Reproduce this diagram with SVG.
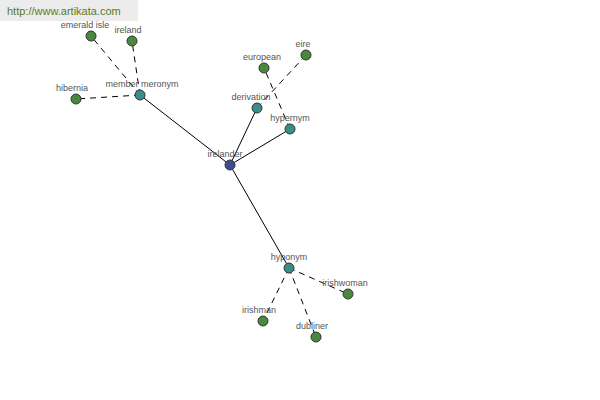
<svg xmlns="http://www.w3.org/2000/svg" width="600" height="400" viewBox="0 0 600 400">
<style>
.lbl{font-family:"Liberation Sans",Arial,sans-serif;font-size:9px;fill:#555;text-anchor:middle}
.n{stroke:#2a3a2a;stroke-width:1}
.teal{fill:#3c8c8c}
.green{fill:#4a8840}
.blue{fill:#3f4a95}
.e{stroke:#000;stroke-width:1;fill:none}
.d{stroke-dasharray:6,5}
</style>
<rect x="0" y="0" width="138" height="21" fill="#ececec"/>
<text x="7" y="15" font-family="'Liberation Sans',Arial,sans-serif" font-size="11" fill="#5a7a2a">http://www.artikata.com</text>
<g id="connectors">
<line class="e" x1="230" y1="165" x2="140" y2="95"/>
<line class="e" x1="230" y1="165" x2="257" y2="108"/>
<line class="e" x1="230" y1="165" x2="290" y2="129"/>
<line class="e" x1="230" y1="165" x2="289" y2="268"/>
<line class="e d" x1="140" y1="95" x2="91" y2="36"/>
<line class="e d" x1="140" y1="95" x2="132" y2="41"/>
<line class="e d" x1="140" y1="95" x2="76" y2="99"/>
<line class="e d" x1="257" y1="108" x2="306" y2="55"/>
<line class="e d" x1="290" y1="129" x2="264" y2="68"/>
<line class="e d" x1="289" y1="268" x2="348" y2="294"/>
<line class="e d" x1="289" y1="268" x2="263" y2="321"/>
<line class="e d" x1="289" y1="268" x2="316" y2="337"/>
</g>
<g id="irelander"><circle class="n blue" cx="230" cy="165" r="5"/><text class="lbl" x="225" y="157">irelander</text></g>
<g id="member-meronym"><circle class="n teal" cx="140" cy="95" r="5"/><text class="lbl" x="142" y="87">member meronym</text></g>
<g id="emerald-isle"><circle class="n green" cx="91" cy="36" r="5"/><text class="lbl" x="85" y="28">emerald isle</text></g>
<g id="ireland"><circle class="n green" cx="132" cy="41" r="5"/><text class="lbl" x="128" y="33">ireland</text></g>
<g id="hibernia"><circle class="n green" cx="76" cy="99" r="5"/><text class="lbl" x="72" y="91">hibernia</text></g>
<g id="derivation"><circle class="n teal" cx="257" cy="108" r="5"/><text class="lbl" x="251" y="100">derivation</text></g>
<g id="european"><circle class="n green" cx="264" cy="68" r="5"/><text class="lbl" x="262" y="60">european</text></g>
<g id="eire"><circle class="n green" cx="306" cy="55" r="5"/><text class="lbl" x="303" y="47">eire</text></g>
<g id="hypernym"><circle class="n teal" cx="290" cy="129" r="5"/><text class="lbl" x="290" y="121">hypernym</text></g>
<g id="hyponym"><circle class="n teal" cx="289" cy="268" r="5"/><text class="lbl" x="289" y="260">hyponym</text></g>
<g id="irishwoman"><circle class="n green" cx="348" cy="294" r="5"/><text class="lbl" x="345" y="286">irishwoman</text></g>
<g id="irishman"><circle class="n green" cx="263" cy="321" r="5"/><text class="lbl" x="259" y="313">irishman</text></g>
<g id="dubliner"><circle class="n green" cx="316" cy="337" r="5"/><text class="lbl" x="312" y="329">dubliner</text></g>
</svg>
